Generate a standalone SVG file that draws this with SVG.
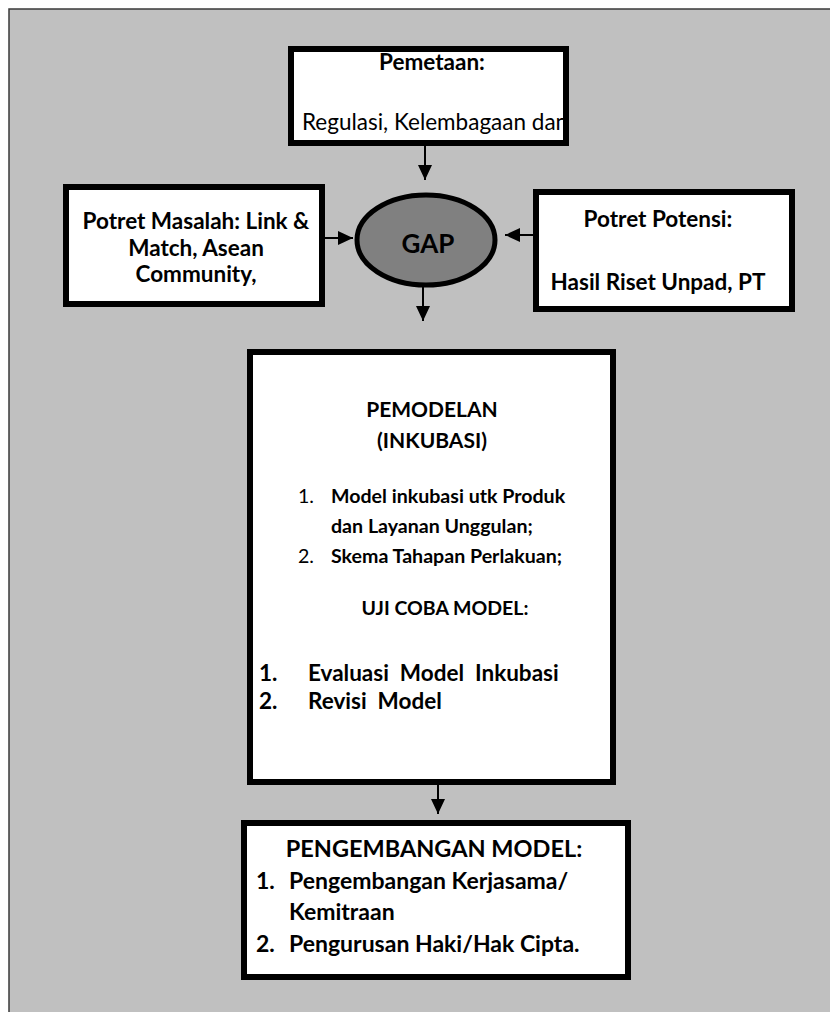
<svg xmlns="http://www.w3.org/2000/svg" width="830" height="1012" viewBox="0 0 830 1012">
  <style>
    .box { fill: #ffffff; stroke: #000000; stroke-width: 6; }
    .t { font-family: Lato, "Open Sans", "Liberation Sans", sans-serif; font-size: 20px; fill: #000000; }
    .b { font-weight: bold; }
    .c { text-anchor: middle; }
    .pre { white-space: pre; }
    .s22 { font-size: 22.5px; }
    .s21 { font-size: 21px; }
    .s195 { font-size: 19.6px; }
    .s23 { font-size: 23px; }
    .link { fill: none; stroke: #000000; stroke-width: 2; marker-end: url(#head); }
  </style>
  <defs>
    <marker id="head" markerUnits="userSpaceOnUse" markerWidth="16" markerHeight="16" refX="15" refY="8" orient="auto">
      <path d="M0,1 L15,8 L0,15 z" fill="#000000"/>
    </marker>
    <clipPath id="mapClip">
      <rect x="294" y="52" width="269" height="88"/>
    </clipPath>
  </defs>

  <!-- background panel -->
  <rect x="9" y="9" width="900" height="1100" fill="#c0c0c0" stroke="#3a3a3a" stroke-width="1.5"/>

  <!-- connectors -->
  <g id="connectors">
    <path class="link" d="M425,146 L425,180"/>
    <path class="link" d="M325,238 L353,238"/>
    <path class="link" d="M533,235 L505,235"/>
    <path class="link" d="M423,287 L423,321"/>
    <path class="link" d="M438,785 L438,814"/>
  </g>

  <!-- mapping box -->
  <g id="pemetaan">
    <rect class="box" x="291" y="49" width="275" height="94"/>
    <text class="t s22 b c" x="432" y="70">Pemetaan:</text>
    <g clip-path="url(#mapClip)">
      <text class="t s22" x="302" y="130">Regulasi, Kelembagaan dan</text>
    </g>
  </g>

  <!-- problem portrait -->
  <g id="potret-masalah">
    <rect class="box" x="66" y="187" width="256" height="117"/>
    <text class="t s22 b c" x="196" y="229">Potret Masalah: Link &amp;</text>
    <text class="t s22 b c" x="196" y="256">Match, Asean</text>
    <text class="t s22 b c" x="196" y="282">Community,</text>
  </g>

  <!-- potential portrait -->
  <g id="potret-potensi">
    <rect class="box" x="536" y="192" width="256" height="117"/>
    <text class="t s22 b c" x="658" y="227">Potret Potensi:</text>
    <text class="t s22 b c" x="658" y="290">Hasil Riset Unpad, PT</text>
  </g>

  <!-- gap -->
  <g id="gap">
    <ellipse cx="426" cy="240" rx="69" ry="45" fill="#808080" stroke="#000000" stroke-width="5"/>
    <text class="t b c" x="428" y="253" style="font-size:26px" fill="#1a1a1a">GAP</text>
  </g>

  <!-- modelling / incubation -->
  <g id="pemodelan">
    <rect class="box" x="250" y="352" width="363" height="430"/>
    <text class="t s21 b c" x="432" y="417">PEMODELAN</text>
    <text class="t s21 b c" x="432" y="448">(INKUBASI)</text>
    <text class="t s195" x="298" y="503">1.</text>
    <text class="t s195 b" x="331" y="503">Model inkubasi utk Produk</text>
    <text class="t s195 b" x="331" y="533">dan Layanan Unggulan;</text>
    <text class="t s195" x="298" y="563">2.</text>
    <text class="t s195 b" x="331" y="563">Skema Tahapan Perlakuan;</text>
    <text class="t b c" x="445" y="615" style="font-size:19.5px">UJI COBA MODEL:</text>
    <text class="t s22 b" x="259" y="681">1.</text>
    <text class="t s22 b pre" x="308" y="681">Evaluasi  Model  Inkubasi</text>
    <text class="t s22 b" x="259" y="709">2.</text>
    <text class="t s22 b pre" x="308" y="709">Revisi  Model</text>
  </g>

  <!-- model development -->
  <g id="pengembangan">
    <rect class="box" x="244" y="823" width="384" height="154"/>
    <text class="t b c" x="434" y="857" style="font-size:23.5px">PENGEMBANGAN MODEL:</text>
    <text class="t s23 b" x="256" y="889">1.</text>
    <text class="t s23 b" x="289" y="889">Pengembangan Kerjasama/</text>
    <text class="t s23 b" x="289" y="920">Kemitraan</text>
    <text class="t s23 b" x="256" y="952">2.</text>
    <text class="t s23 b" x="289" y="952">Pengurusan Haki/Hak Cipta.</text>
  </g>
</svg>
